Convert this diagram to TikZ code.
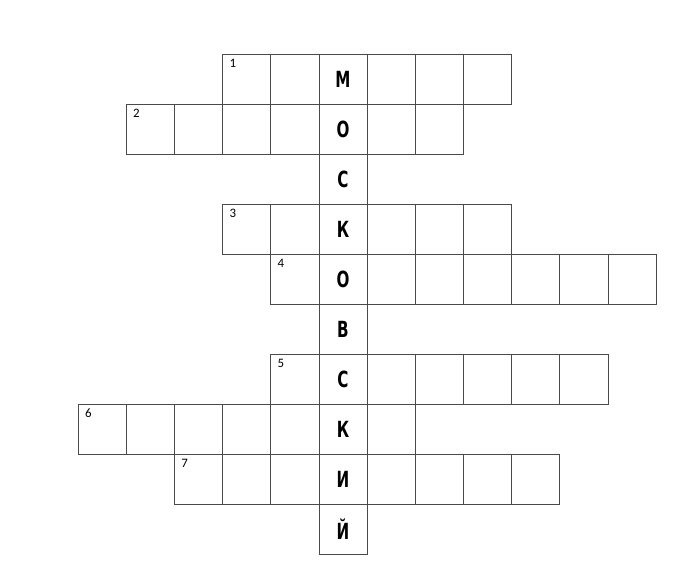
\documentclass[tikz,border=0pt]{standalone}
\usepackage{fontspec}
\usepackage{tikz}
\usetikzlibrary{positioning}
\newfontfamily\keyfont[FakeStretch=0.68]{DejaVu Sans}
\newfontfamily\numfont{Carlito}
\definecolor{gridgray}{HTML}{4A4A4A}

\begin{document}
\begin{tikzpicture}[
    x=1.445cm,
    y=-1.5cm,
    cell/.style={
        rectangle,
        draw=gridgray,
        line width=0.6pt,
        minimum width=1.445cm,
        minimum height=1.5cm,
        inner sep=0pt
    },
    keyletter/.style={font=\keyfont\bfseries\fontsize{19}{19}\selectfont, text=black},
    cluenum/.style={font=\numfont\fontsize{11}{11}\selectfont, text=black, inner sep=0pt}
]
    \useasboundingbox (-1.619,-1.086) rectangle (12.414,10.594);

    % === WORD ROWS ===
    \foreach \c in {3,...,8} \node[cell] (wa-\c) at (\c+0.5,0.5) {};
    \foreach \c in {1,...,7} \node[cell] (wb-\c) at (\c+0.5,1.5) {};
    \foreach \c in {3,...,8} \node[cell] (wc-\c) at (\c+0.5,3.5) {};
    \foreach \c in {4,...,11} \node[cell] (wd-\c) at (\c+0.5,4.5) {};
    \foreach \c in {4,...,10} \node[cell] (we-\c) at (\c+0.5,6.5) {};
    \foreach \c in {0,...,6} \node[cell] (wf-\c) at (\c+0.5,7.5) {};
    \foreach \c in {2,...,9} \node[cell] (wg-\c) at (\c+0.5,8.5) {};

    % === KEY COLUMN ===
    \foreach \l [count=\r from 0] in {М,О,С,К,О,В,С,К,И,Й}
        \node[cell, keyletter] (key-\r) at (5.5,\r+0.5) {\l};

    % === CLUE NUMBERS ===
    \node[cluenum] (n1) at ([shift={(0.32cm,-0.28cm)}]wa-3.north west) {1};
    \node[cluenum] (n2) at ([shift={(0.32cm,-0.28cm)}]wb-1.north west) {2};
    \node[cluenum] (n3) at ([shift={(0.32cm,-0.28cm)}]wc-3.north west) {3};
    \node[cluenum] (n4) at ([shift={(0.32cm,-0.28cm)}]wd-4.north west) {4};
    \node[cluenum] (n5) at ([shift={(0.32cm,-0.28cm)}]we-4.north west) {5};
    \node[cluenum] (n6) at ([shift={(0.32cm,-0.28cm)}]wf-0.north west) {6};
    \node[cluenum] (n7) at ([shift={(0.32cm,-0.28cm)}]wg-2.north west) {7};
\end{tikzpicture}
\end{document}
